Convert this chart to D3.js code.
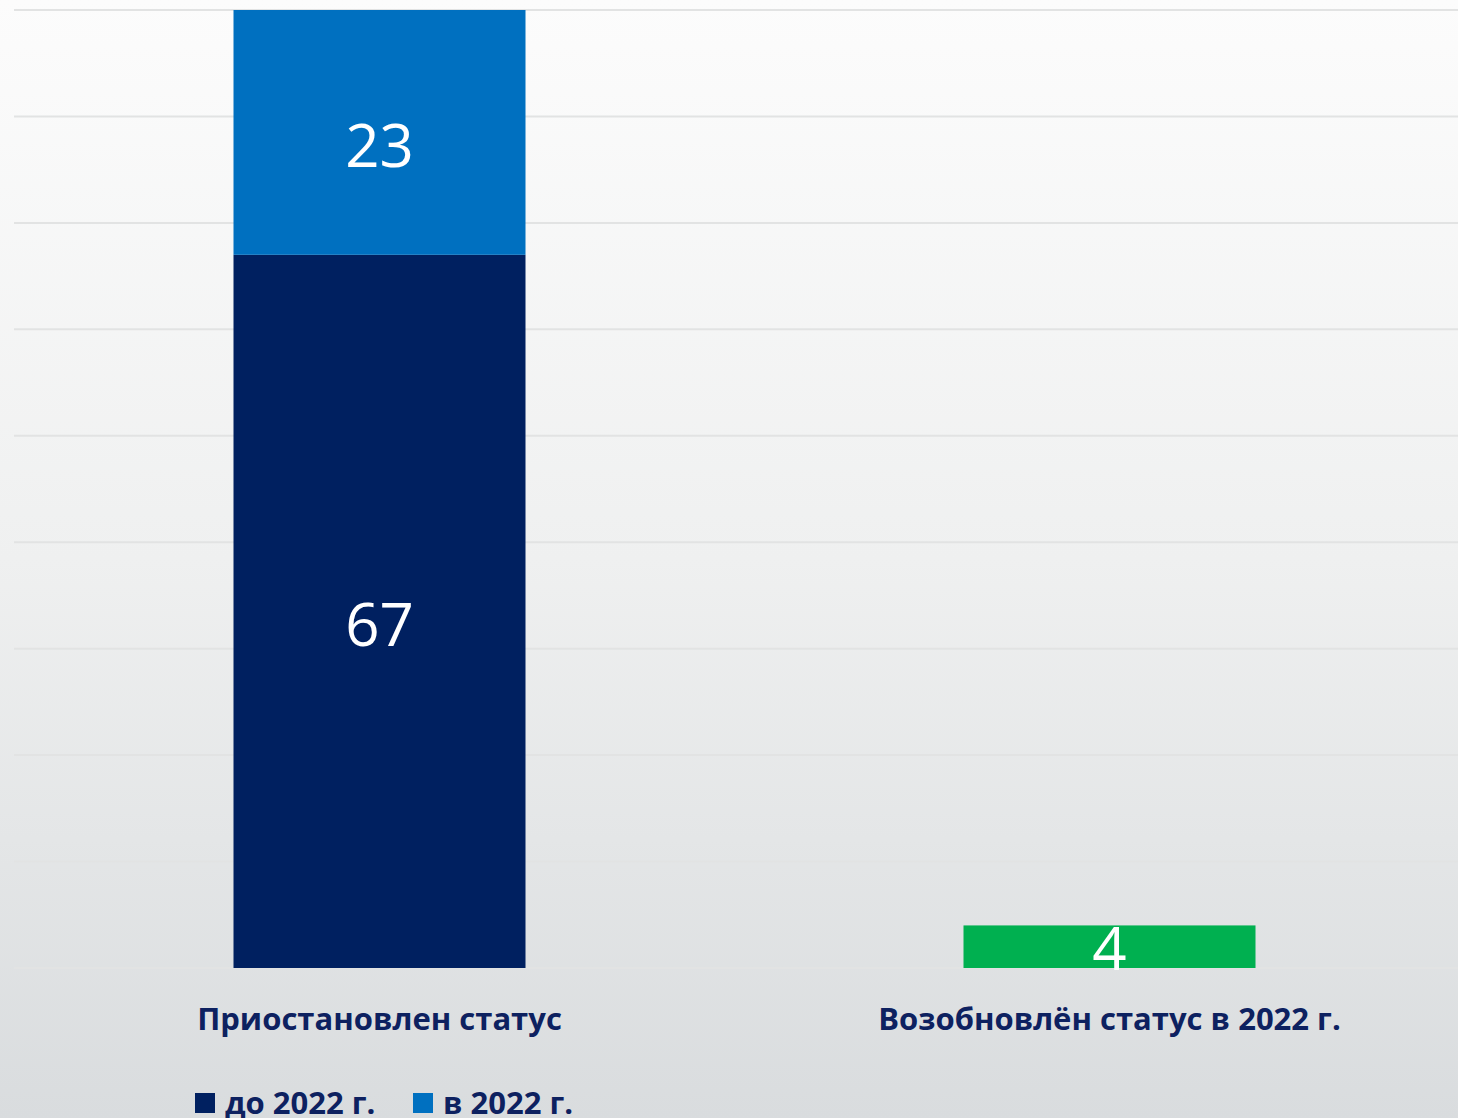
<!DOCTYPE html>
<html><head><meta charset="utf-8">
<script src="https://cdn.jsdelivr.net/npm/d3@7"></script>
<style>html,body{margin:0;padding:0;overflow:hidden;}svg{display:block;}</style>
</head><body>
<svg id="c" width="1458" height="1118"></svg>
<script>
const categories = ["Приостановлен статус", "Возобновлён статус в 2022 г."];
const seriesNames = ["до 2022 г.", "в 2022 г.", "Возобновлён"];
const before2022 = [67, 0];
const in2022 = [23, 0];
const resumed = [0, 4];
const yTicks = [0, 10, 20, 30, 40, 50, 60, 70, 80, 90];

const W = 1458, H = 1118;
const svg = d3.select("#c");
const defs = svg.append("defs");
const grad = defs.append("linearGradient").attr("id","bg").attr("x1",0).attr("y1",0).attr("x2",0).attr("y2",1);
grad.append("stop").attr("offset","0%").attr("stop-color","#fcfcfc");
grad.append("stop").attr("offset","50%").attr("stop-color","#eff0f0");
grad.append("stop").attr("offset","100%").attr("stop-color","#d9dcde");
svg.append("rect").attr("width",W).attr("height",H).attr("fill","url(#bg)");

const x = d3.scaleBand().domain(categories).range([14.5, 1474.5]).paddingInner(0.6).paddingOuter(0.3);
const y = d3.scaleLinear().domain([0, 90]).range([968, 10]);

// gridlines
svg.append("g").selectAll("line").data(yTicks).join("line")
  .attr("x1", 14).attr("x2", W)
  .attr("y1", d => y(d)).attr("y2", d => y(d))
  .attr("stroke", "#e2e3e3").attr("stroke-width", 2);

const colors = ["#002060", "#0070c0", "#00b050"];
const rows = categories.map((c, i) => ({cat: c, a: before2022[i], b: in2022[i], g: resumed[i]}));
const stack = d3.stack().keys(["a","b","g"])(rows);

const gBars = svg.append("g");
stack.forEach((layer, li) => {
  gBars.selectAll(null).data(layer.filter(d => d[1] - d[0] > 0)).join("rect")
    .attr("x", d => x(d.data.cat))
    .attr("width", x.bandwidth())
    .attr("y", d => y(d[1]))
    .attr("height", d => y(d[0]) - y(d[1]))
    .attr("fill", colors[li]);
  gBars.selectAll(null).data(layer.filter(d => d[1] - d[0] > 0)).join("text")
    .attr("x", d => x(d.data.cat) + x.bandwidth()/2)
    .attr("y", d => (y(d[0]) + y(d[1]))/2 + (li===2 ? 0 : 12))
    .attr("text-anchor", "middle")
    .attr("dominant-baseline", "central")
    .attr("fill", "#ffffff")
    .attr("font-family", "'Open Sans', sans-serif")
    .attr("font-size", li===2 ? 60 : 60)
    .text(d => d[1] - d[0]);
});

// category labels
svg.append("g").selectAll("text").data(categories).join("text")
  .attr("x", d => x(d) + x.bandwidth()/2)
  .attr("y", 1030)
  .attr("text-anchor", "middle")
  .attr("fill", "#0d2160")
  .attr("font-family", "'Open Sans', sans-serif")
  .attr("font-weight", 700)
  .attr("font-size", 31)
  .text(d => d);

// legend
const legendItems = [{name: seriesNames[0], color: colors[0], x: 195}, {name: seriesNames[1], color: colors[1], x: 413}];
const lg = svg.append("g").selectAll("g").data(legendItems).join("g")
  .attr("transform", d => `translate(${d.x},1093)`);
lg.append("rect").attr("width", 20).attr("height", 20).attr("fill", d => d.color);
lg.append("text").attr("x", 30).attr("y", 21)
  .attr("fill", "#0d2160")
  .attr("font-family", "'Open Sans', sans-serif")
  .attr("font-weight", 700)
  .attr("font-size", 31)
  .text(d => d.name);
</script>
</body></html>
